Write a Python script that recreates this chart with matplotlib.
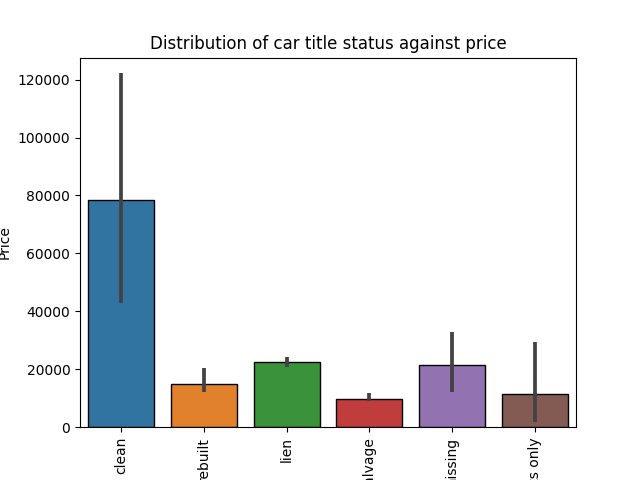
import matplotlib

matplotlib.use("Agg")
import matplotlib.pyplot as plt

# mean price per title status, with confidence interval bounds
statuses = ["clean", "rebuilt", "lien", "salvage", "missing", "parts only"]
mean_price = [78300, 14800, 22400, 9900, 21400, 11300]
ci_low = [42800, 12000, 20900, 9100, 12000, 1800]
ci_high = [122300, 20300, 24200, 11800, 32700, 29300]
colors = ["#3274a1", "#e1812c", "#3a923a", "#c03d3e", "#9372b2", "#845b53"]

fig, ax = plt.subplots(figsize=(6.4, 4.8), dpi=100)
x = range(len(statuses))
ax.bar(x, mean_price, width=0.8, color=colors, edgecolor="black", linewidth=1.0)
ax.vlines(x, ci_low, ci_high, color="#424242", linewidth=2.7)

ax.set_xlim(-0.5, len(statuses) - 0.5)
ax.set_ylim(0, 127600)
ax.set_xticks(list(x))
ax.set_xticklabels(statuses, rotation=90)
ax.set_ylabel("Price")
ax.set_title("Distribution of car title status against price")

fig.savefig("out.png")
